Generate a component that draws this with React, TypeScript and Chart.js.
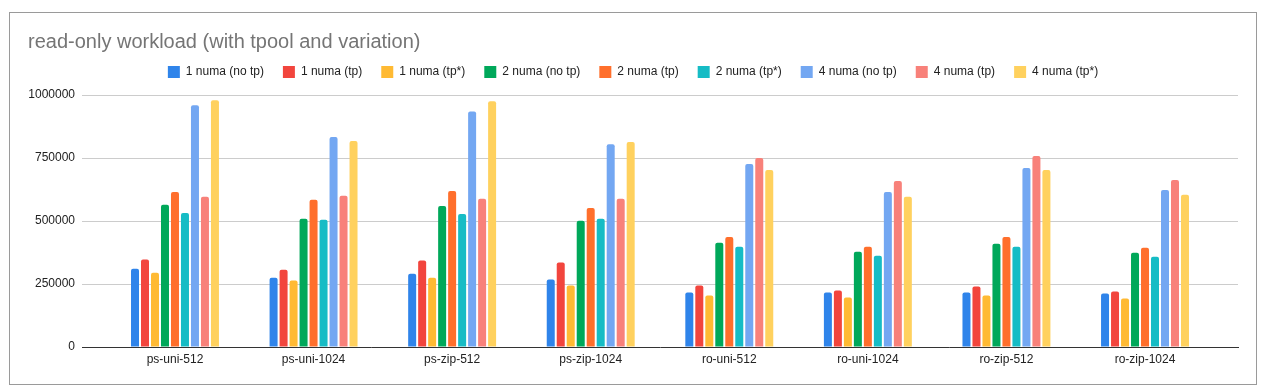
import React, { useEffect, useRef } from 'react';
import { Chart, registerables } from 'chart.js';

Chart.register(...registerables);

const titleText = 'read-only workload (with tpool and variation)';
const categories = ['ps-uni-512', 'ps-uni-1024', 'ps-zip-512', 'ps-zip-1024', 'ro-uni-512', 'ro-uni-1024', 'ro-zip-512', 'ro-zip-1024'];
const seriesNames = ['1 numa (no tp)', '1 numa (tp)', '1 numa (tp*)', '2 numa (no tp)', '2 numa (tp)', '2 numa (tp*)', '4 numa (no tp)', '4 numa (tp)', '4 numa (tp*)'];
const numa1NoTp = [311000, 275000, 291000, 268000, 216000, 216000, 216000, 212000];
const numa1Tp = [347000, 307000, 343000, 335000, 244000, 224000, 240000, 220000];
const numa1TpStar = [295000, 264000, 275000, 244000, 204000, 196000, 204000, 192000];
const numa2NoTp = [564000, 509000, 560000, 501000, 414000, 378000, 410000, 374000];
const numa2Tp = [615000, 584000, 619000, 552000, 437000, 398000, 437000, 394000];
const numa2TpStar = [532000, 505000, 528000, 509000, 398000, 362000, 398000, 358000];
const numa4NoTp = [959000, 833000, 935000, 805000, 726000, 615000, 710000, 623000];
const numa4Tp = [596000, 600000, 588000, 588000, 750000, 659000, 758000, 663000];
const numa4TpStar = [979000, 817000, 975000, 813000, 702000, 596000, 702000, 604000];
const seriesColors = ['#2f84ea', '#f2453d', '#ffba33', '#00a85a', '#ff6f2c', '#16bcc5', '#73a7f2', '#f8817a', '#ffd15e'];
const yTicks = [0, 250000, 500000, 750000, 1000000];

const FONT = '"Liberation Sans", Arial, sans-serif';

const legendSpacer = {
  id: 'legendSpacer',
  afterInit(chart: any) {
    const legend = chart.legend;
    if (!legend || legend.__patched) return;
    const origFit = legend.fit.bind(legend);
    legend.fit = function () {
      origFit();
      this.height += 7;
    };
    legend.__patched = true;
  },
};

export default function App() {
  const canvasRef = useRef<HTMLCanvasElement | null>(null);

  useEffect(() => {
    if (!canvasRef.current) return;
    const allSeries = [numa1NoTp, numa1Tp, numa1TpStar, numa2NoTp, numa2Tp, numa2TpStar, numa4NoTp, numa4Tp, numa4TpStar];
    const chart = new Chart(canvasRef.current, {
      type: 'bar',
      data: {
        labels: categories,
        datasets: allSeries.map((vals, i) => ({
          label: seriesNames[i],
          data: vals,
          backgroundColor: seriesColors[i],
          borderWidth: 0,
          borderRadius: 2,
          categoryPercentage: 0.649,
          barPercentage: 0.8,
        })),
      },
      plugins: [legendSpacer],
      options: {
        animation: false,
        responsive: true,
        maintainAspectRatio: false,
        layout: { padding: { left: 18, right: 18, top: 0, bottom: 0 } },
        plugins: {
          title: {
            display: true,
            text: titleText,
            align: 'start',
            color: '#757575',
            font: { family: FONT, size: 20, weight: 'normal' },
            padding: { top: 17, bottom: -7 },
          },
          legend: {
            display: true,
            position: 'top',
            labels: {
              boxWidth: 12,
              boxHeight: 12,
              padding: 19,
              color: '#222222',
              font: { family: FONT, size: 12 },
            },
          },
          tooltip: { enabled: false },
        },
        scales: {
          x: {
            afterBuildTicks: (scale: any) => {
              scale._startValue = -0.671;
              scale._valueRange = 8.342;
            },
            afterFit: (scale: any) => {
              scale.height = 37;
            },
            grid: { display: false, drawTicks: false },
            border: { display: true, color: '#333333', width: 1 },
            ticks: { color: '#222222', font: { family: FONT, size: 12 }, padding: 5, maxRotation: 0, autoSkip: false },
          },
          y: {
            min: 0,
            max: 1000000,
            afterFit: (scale: any) => {
              scale.width = 54;
            },
            afterBuildTicks: (scale: any) => {
              scale.ticks = yTicks.map((v) => ({ value: v }));
            },
            grid: {
              drawTicks: false,
              color: (ctx: any) => (ctx.tick && ctx.tick.value === 0 ? 'rgba(0,0,0,0)' : '#cccccc'),
              lineWidth: 1,
            },
            border: { display: false },
            ticks: {
              color: '#222222',
              font: { family: FONT, size: 12 },
              padding: 7,
              callback: (v: any) => String(v),
            },
          },
        },
      },
    });
    return () => chart.destroy();
  }, []);

  return (
    <div style={{ paddingTop: 4, paddingLeft: 1 }}>
      <div
        style={{
          boxSizing: 'border-box',
          width: 1248,
          height: 373,
          border: '1px solid #9a9a9a',
          background: '#ffffff',
        }}
      >
        <div style={{ position: 'relative', width: '100%', height: '100%' }}>
          <canvas ref={canvasRef} />
        </div>
      </div>
    </div>
  );
}
